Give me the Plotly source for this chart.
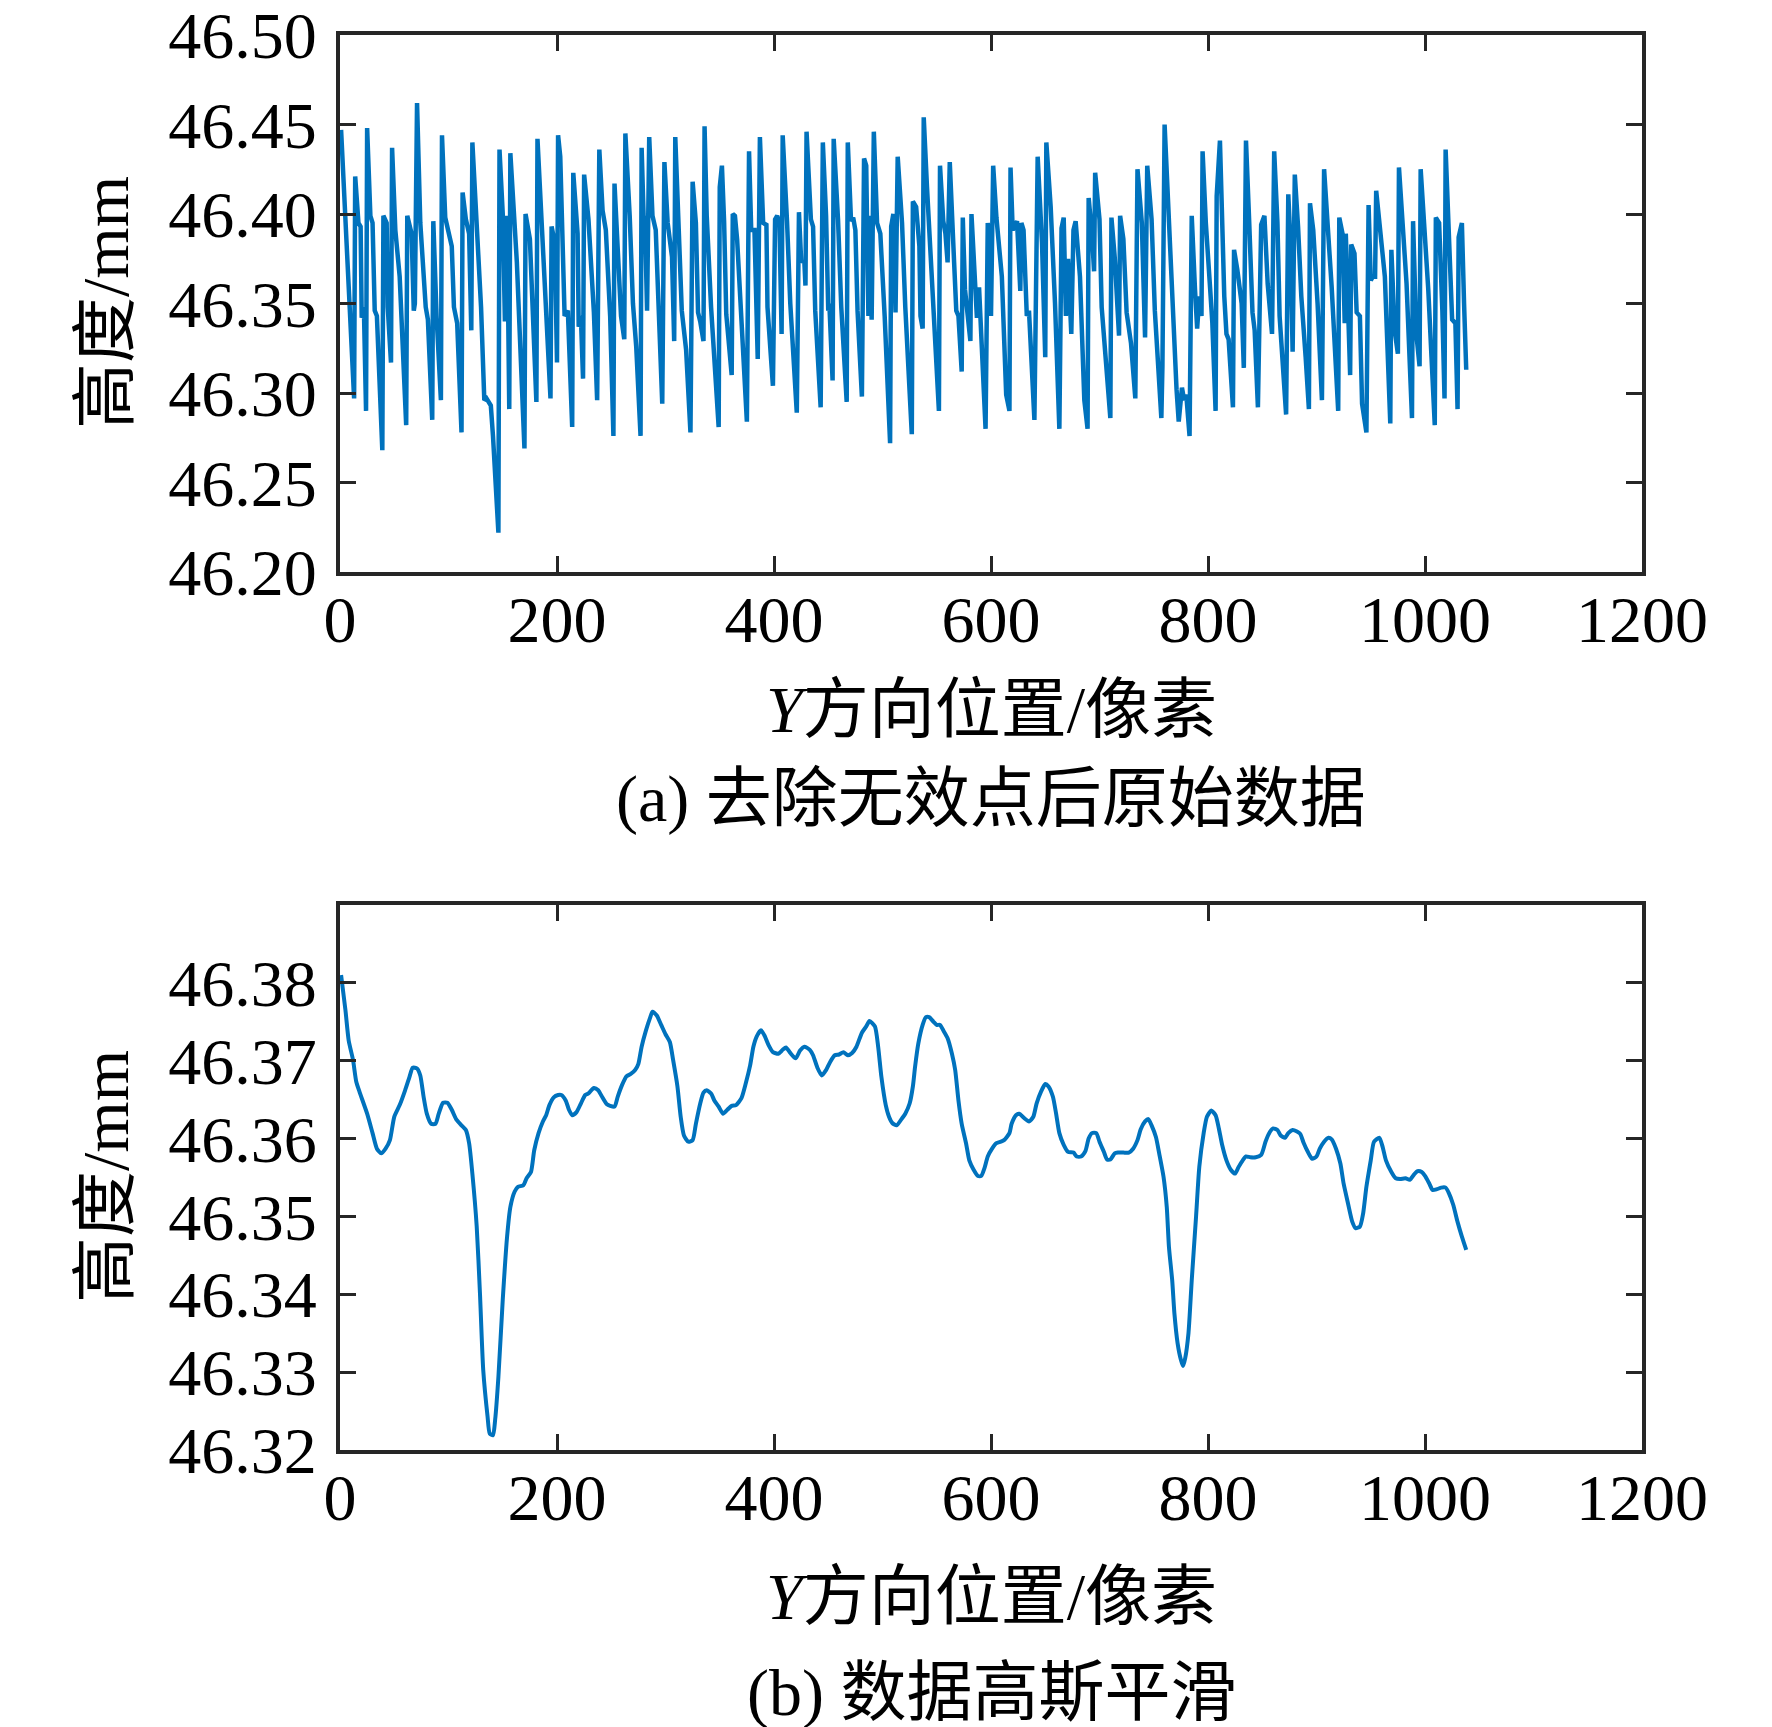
import plotly.graph_objects as go

# (a) raw height profile after removing invalid points
raw_x = [1, 13, 14, 17, 19, 20, 22, 24, 25, 28, 30, 32, 34, 39, 40, 43, 44, 47, 48, 51,
         55, 61, 62, 66, 68, 69, 71, 74, 79, 81, 85, 86, 89, 93, 94, 97, 103, 105, 108, 112,
         113, 116, 119, 121, 122, 126, 130, 133, 135, 139, 141, 146, 147, 150, 152, 154, 156, 157, 160, 163,
         170, 171, 175, 178, 181, 182, 186, 190, 194, 195, 198, 200, 201, 203, 207, 210, 214, 215, 219, 220,
         222, 224, 225, 229, 234, 237, 239, 242, 245, 249, 252, 253, 256, 259, 262,
         263, 267, 270, 273, 277, 278, 280, 281, 283, 285, 288, 291, 294, 297, 299, 302, 306, 308, 309, 312,
         315, 319, 323, 325, 328, 330, 332, 335, 336, 338, 342, 349, 350, 352, 354, 356, 361, 362, 364, 366,
         369, 375, 377, 379, 382, 385, 387, 390, 393, 394, 399, 401, 403, 405, 407, 408, 412, 415, 421, 423,
         425, 428, 429, 430, 434, 436, 438, 443, 445, 448, 450, 451, 454, 455, 459, 462, 467, 468, 471, 473,
         475, 477, 481, 483, 485, 487, 488, 490, 492, 495, 498, 502, 507, 508, 510, 512, 514, 518, 521,
         527, 528, 531, 534, 535, 537, 538, 541, 545, 552, 553, 556, 558, 560, 562, 564, 566, 568, 570, 573,
         574, 576, 581, 582, 585, 587, 589, 595, 597, 600, 602, 605, 610, 614, 617, 618, 620, 624, 627, 628,
         630, 633, 635, 640, 643, 647, 650, 651, 655, 659, 663, 665, 667, 669, 671, 674, 676, 678, 682, 686,
         689, 690, 693, 695, 696, 700, 702, 705, 710, 711, 714, 718, 719, 722, 725, 729, 733, 735, 739, 742,
         744, 748, 751, 757, 758, 760, 763, 768, 771, 773, 776, 778, 780,
         783, 785, 788, 790, 792, 794, 795, 798, 802, 804, 807, 808, 811, 813, 815, 817, 819, 823, 824, 827,
         831, 833, 835, 838, 841, 843, 846, 849, 852, 855, 858, 859, 861, 864, 866, 869, 872, 874, 876, 878,
         880, 883, 886, 890, 893, 894, 897, 901, 905, 907, 910, 914, 920, 921, 924, 926, 927, 931, 932, 935,
         937, 940, 942, 946, 948, 950, 952, 954, 955, 958, 963, 968, 969, 972, 975, 976, 979, 983, 988, 989,
         992, 995, 996, 999, 1003, 1006, 1009, 1010, 1013, 1016, 1018, 1019, 1022, 1025, 1028, 1030, 1031, 1034, 1036, 1038]
raw_y = [46.447, 46.297, 46.421, 46.395, 46.393, 46.342, 46.348, 46.290, 46.448, 46.399, 46.395, 46.346, 46.343, 46.268, 46.399, 46.395, 46.348, 46.317, 46.437, 46.391,
         46.365, 46.282, 46.399, 46.389, 46.346, 46.350, 46.462, 46.395, 46.348, 46.341, 46.285, 46.396, 46.343, 46.296, 46.444, 46.398, 46.382, 46.348, 46.339, 46.278,
         46.412, 46.397, 46.389, 46.335, 46.440, 46.396, 46.348, 46.296, 46.297, 46.293, 46.276, 46.222, 46.436, 46.400, 46.340, 46.399, 46.291, 46.434, 46.398, 46.373,
         46.269, 46.400, 46.386, 46.339, 46.295, 46.442, 46.396, 46.348, 46.297, 46.393, 46.384, 46.317, 46.444, 46.432, 46.343, 46.346, 46.281, 46.423, 46.389, 46.337,
         46.343, 46.308, 46.422, 46.397, 46.345, 46.296, 46.436, 46.402, 46.391, 46.343, 46.276, 46.417, 46.376, 46.343, 46.330,
         46.445, 46.399, 46.350, 46.326, 46.276, 46.437, 46.395, 46.399, 46.346, 46.443, 46.399, 46.391, 46.348, 46.294, 46.429, 46.395, 46.376, 46.329, 46.443, 46.395,
         46.346, 46.324, 46.278, 46.418, 46.395, 46.345, 46.340, 46.329, 46.449, 46.399, 46.348, 46.281, 46.415, 46.427, 46.396, 46.344, 46.310, 46.400, 46.399, 46.386,
         46.348, 46.284, 46.435, 46.391, 46.391, 46.319, 46.443, 46.395, 46.394, 46.348, 46.304, 46.397, 46.399, 46.395, 46.333, 46.444, 46.396, 46.350, 46.289, 46.401,
         46.374, 46.373, 46.360, 46.446, 46.397, 46.393, 46.346, 46.292, 46.440, 46.399, 46.346, 46.350, 46.307, 46.442, 46.397, 46.348, 46.295, 46.440, 46.396, 46.398,
         46.391, 46.346, 46.298, 46.431, 46.427, 46.343, 46.399, 46.341, 46.446, 46.395, 46.389, 46.343, 46.272, 46.393, 46.400, 46.345, 46.432, 46.395, 46.348,
         46.277, 46.407, 46.404, 46.382, 46.343, 46.336, 46.454, 46.415, 46.373, 46.290, 46.427, 46.396, 46.389, 46.373, 46.429, 46.395, 46.373, 46.346, 46.343, 46.312,
         46.398, 46.358, 46.329, 46.400, 46.369, 46.342, 46.359, 46.280, 46.395, 46.343, 46.427, 46.398, 46.365, 46.299, 46.290, 46.426, 46.391, 46.396, 46.357, 46.395,
         46.391, 46.343, 46.346, 46.285, 46.432, 46.384, 46.320, 46.440, 46.404, 46.350, 46.280, 46.392, 46.398, 46.343, 46.375, 46.333, 46.391, 46.396, 46.365, 46.296,
         46.280, 46.409, 46.389, 46.368, 46.423, 46.397, 46.348, 46.326, 46.286, 46.398, 46.376, 46.332, 46.399, 46.386, 46.345, 46.328, 46.297, 46.425, 46.395, 46.331,
         46.427, 46.397, 46.346, 46.286, 46.315, 46.450, 46.408, 46.346, 46.302, 46.284, 46.303, 46.296, 46.299,
         46.276, 46.399, 46.358, 46.336, 46.354, 46.343, 46.435, 46.395, 46.358, 46.339, 46.290, 46.410, 46.441, 46.395, 46.354, 46.333, 46.330, 46.292, 46.380, 46.369,
         46.350, 46.314, 46.441, 46.395, 46.345, 46.335, 46.292, 46.394, 46.399, 46.361, 46.333, 46.333, 46.435, 46.395, 46.343, 46.313, 46.288, 46.411, 46.384, 46.323,
         46.422, 46.393, 46.354, 46.320, 46.291, 46.406, 46.391, 46.350, 46.296, 46.425, 46.396, 46.359, 46.290, 46.398, 46.389, 46.339, 46.389, 46.310, 46.383, 46.378,
         46.345, 46.343, 46.294, 46.278, 46.405, 46.363, 46.365, 46.365, 46.413, 46.395, 46.365, 46.283, 46.380, 46.335, 46.322, 46.426, 46.395, 46.361, 46.286, 46.396,
         46.333, 46.315, 46.425, 46.399, 46.358, 46.320, 46.282, 46.398, 46.395, 46.346, 46.297, 46.436, 46.391, 46.341, 46.339, 46.291, 46.387, 46.395, 46.350, 46.313]

# (b) the same profile after gaussian smoothing
smooth_x = [1, 5, 8, 12, 15, 18, 25, 30, 34, 38, 42, 46, 50, 55, 60, 64, 67, 71, 74, 77,
            80, 84, 88, 91, 95, 99, 103, 107, 112, 116, 119, 122, 126, 129, 132, 136, 138, 141, 143, 146,
            150, 154, 157, 161, 164, 169, 172, 176, 179, 183, 187, 190, 193, 197, 201, 204, 208, 211, 214, 218,
            222, 226, 229, 234, 238, 241, 246, 249, 253, 256, 260, 264, 268, 272, 275, 278, 282, 286, 288, 292,
            296, 300, 304, 307, 311, 314, 317, 321, 325, 328, 332, 335, 338, 342, 345, 349, 353, 357, 361, 365,
            370, 374, 378, 381, 384, 388, 391, 395, 399, 404, 408, 411, 415, 420, 424, 428, 433, 436, 440, 444,
            448, 452, 456, 460, 464, 468, 472, 476, 481, 485, 488, 493, 496, 499, 503, 506, 509, 513, 518, 521,
            525, 528, 530, 533, 537, 540, 543, 547, 550, 553, 556, 560, 564, 567, 570, 573, 577, 580, 584, 588,
            591, 594, 597, 601, 605, 609, 612, 617, 619, 623, 626, 630, 635, 639, 642, 646, 650, 653, 657, 660,
            663, 667, 671, 676, 679, 683, 687, 690, 693, 697, 700, 704, 707, 710, 714, 717, 722, 727, 731, 735,
            738, 742, 745, 748, 752, 755, 759, 762, 764, 767, 769, 772, 775, 777, 779, 782, 785, 789, 792, 796,
            799, 803, 807, 810, 813, 817, 821, 825, 828, 832, 835, 839, 844, 849, 853, 856, 860, 864, 867, 871,
            874, 878, 882, 885, 888, 892, 896, 900, 903, 907, 911, 914, 918, 922, 925, 929, 933, 936, 940, 943,
            946, 950, 953, 958, 961, 964, 969, 973, 977, 982, 986, 990, 993, 997, 1000, 1004, 1007, 1011, 1015, 1019,
            1022, 1026, 1030, 1034, 1038]
smooth_y = [46.3810, 46.3765, 46.3726, 46.3701, 46.3673, 46.3660, 46.3632, 46.3607, 46.3587, 46.3581, 46.3587, 46.3598, 46.3628, 46.3643, 46.3662, 46.3679, 46.3691, 46.3690, 46.3681, 46.3654,
            46.3632, 46.3619, 46.3619, 46.3632, 46.3646, 46.3646, 46.3637, 46.3625, 46.3617, 46.3611, 46.3594, 46.3555, 46.3487, 46.3401, 46.3303, 46.3243, 46.3221, 46.3219, 46.3239, 46.3294,
            46.3393, 46.3474, 46.3512, 46.3532, 46.3538, 46.3540, 46.3549, 46.3557, 46.3585, 46.3607, 46.3622, 46.3630, 46.3643, 46.3653, 46.3656, 46.3656, 46.3649, 46.3637, 46.3630, 46.3634,
            46.3645, 46.3656, 46.3658, 46.3665, 46.3662, 46.3655, 46.3644, 46.3642, 46.3641, 46.3654, 46.3669, 46.3680, 46.3683, 46.3688, 46.3696, 46.3718, 46.3739, 46.3756, 46.3763, 46.3758,
            46.3746, 46.3734, 46.3724, 46.3701, 46.3667, 46.3628, 46.3604, 46.3596, 46.3598, 46.3619, 46.3645, 46.3659, 46.3662, 46.3658, 46.3649, 46.3641, 46.3632, 46.3637, 46.3642, 46.3643,
            46.3652, 46.3671, 46.3694, 46.3718, 46.3731, 46.3739, 46.3733, 46.3720, 46.3711, 46.3709, 46.3714, 46.3717, 46.3710, 46.3703, 46.3713, 46.3718, 46.3714, 46.3707, 46.3691, 46.3681,
            46.3688, 46.3699, 46.3707, 46.3708, 46.3711, 46.3707, 46.3710, 46.3718, 46.3736, 46.3744, 46.3751, 46.3744, 46.3718, 46.3679, 46.3643, 46.3628, 46.3620, 46.3617, 46.3626, 46.3632,
            46.3645, 46.3667, 46.3692, 46.3722, 46.3746, 46.3756, 46.3756, 46.3750, 46.3746, 46.3746, 46.3739, 46.3729, 46.3709, 46.3688, 46.3649, 46.3619, 46.3594, 46.3572, 46.3560, 46.3552,
            46.3552, 46.3562, 46.3577, 46.3587, 46.3594, 46.3596, 46.3598, 46.3607, 46.3619, 46.3630, 46.3632, 46.3627, 46.3622, 46.3628, 46.3645, 46.3660, 46.3670, 46.3667, 46.3654, 46.3632,
            46.3607, 46.3592, 46.3583, 46.3582, 46.3577, 46.3577, 46.3584, 46.3600, 46.3607, 46.3607, 46.3596, 46.3583, 46.3573, 46.3573, 46.3581, 46.3582, 46.3582, 46.3582, 46.3587, 46.3598,
            46.3612, 46.3622, 46.3625, 46.3617, 46.3602, 46.3581, 46.3551, 46.3512, 46.3461, 46.3418, 46.3376, 46.3337, 46.3316, 46.3308, 46.3318, 46.3350, 46.3418, 46.3500, 46.3564, 46.3607,
            46.3628, 46.3636, 46.3630, 46.3613, 46.3592, 46.3572, 46.3560, 46.3555, 46.3563, 46.3572, 46.3577, 46.3576, 46.3576, 46.3579, 46.3596, 46.3606, 46.3613, 46.3611, 46.3604, 46.3601,
            46.3607, 46.3611, 46.3609, 46.3606, 46.3595, 46.3583, 46.3574, 46.3577, 46.3587, 46.3596, 46.3601, 46.3599, 46.3587, 46.3568, 46.3542, 46.3517, 46.3493, 46.3485, 46.3487, 46.3504,
            46.3538, 46.3572, 46.3596, 46.3601, 46.3589, 46.3572, 46.3557, 46.3549, 46.3548, 46.3549, 46.3547, 46.3554, 46.3558, 46.3557, 46.3552, 46.3542, 46.3534, 46.3535, 46.3537, 46.3537,
            46.3530, 46.3515, 46.3493, 46.3474, 46.3457]

x_ticks = [0, 200, 400, 600, 800, 1000, 1200]
raw_ticks = [46.20, 46.25, 46.30, 46.35, 46.40, 46.45, 46.50]
smooth_ticks = [46.32, 46.33, 46.34, 46.35, 46.36, 46.37, 46.38]

W, H = 1772, 1727
OFF = 8  # page body margin in front of the plot div
FONT = "Liberation Serif, Times New Roman, Noto Sans CJK SC"
AX = "#262626"
BLUE = "#0072BD"


def px(x):
    return (x - OFF) / W


def py(y):
    return 1 - (y - OFF) / H


fig = go.Figure()
fig.add_trace(go.Scatter(x=raw_x, y=raw_y, mode="lines",
                         line=dict(color=BLUE, width=4.5), xaxis="x", yaxis="y"))
fig.add_trace(go.Scatter(x=smooth_x, y=smooth_y, mode="lines",
                         line=dict(color=BLUE, width=4, shape="spline", smoothing=0.6),
                         xaxis="x2", yaxis="y2"))

x_dom = [px(340), px(1642)]
common = dict(showline=True, linewidth=4, linecolor=AX, mirror="allticks",
              ticks="inside", ticklen=16, tickwidth=3, tickcolor=AX,
              showgrid=False, zeroline=False, automargin=False,
              ticklabeloverflow="allow",
              tickfont=dict(family=FONT, size=66, color="black"))

fig.update_layout(
    template="none",
    width=W, height=H,
    margin=dict(l=0, r=0, t=0, b=0),
    paper_bgcolor="white", plot_bgcolor="white",
    showlegend=False,
    xaxis=dict(domain=x_dom, anchor="y", range=[0, 1200], tickvals=x_ticks,
               ticklabelstandoff=-13, **common),
    yaxis=dict(domain=[py(572), py(35)], anchor="x", range=[46.2, 46.500001],
               tickvals=raw_ticks, tickformat=".2f", ticklabelstandoff=6, **common),
    xaxis2=dict(domain=x_dom, anchor="y2", range=[0, 1200], tickvals=x_ticks,
                ticklabelstandoff=-13, **common),
    yaxis2=dict(domain=[py(1450), py(905)], anchor="x2", range=[46.32, 46.39],
                tickvals=smooth_ticks, tickformat=".2f", ticklabelstandoff=6, **common),
)

xc = (x_dom[0] + x_dom[1]) / 2
texts = [
    ("<i>Y</i>方向位置/像素", xc, py(710), 0),
    ("(a) 去除无效点后原始数据", xc, py(799), 0),
    ("<i>Y</i>方向位置/像素", xc, py(1596), 0),
    ("(b) 数据高斯平滑", xc, py(1693), 0),
    ("高度/mm", px(105), py(303), -90),
    ("高度/mm", px(105), py(1177), -90),
]
for t, x, y, ang in texts:
    fig.add_annotation(text=t, x=x, y=y, xref="paper", yref="paper",
                       xanchor="center", yanchor="middle", textangle=ang,
                       showarrow=False, font=dict(family=FONT, size=66, color="black"))

fig.write_html("out.html")
